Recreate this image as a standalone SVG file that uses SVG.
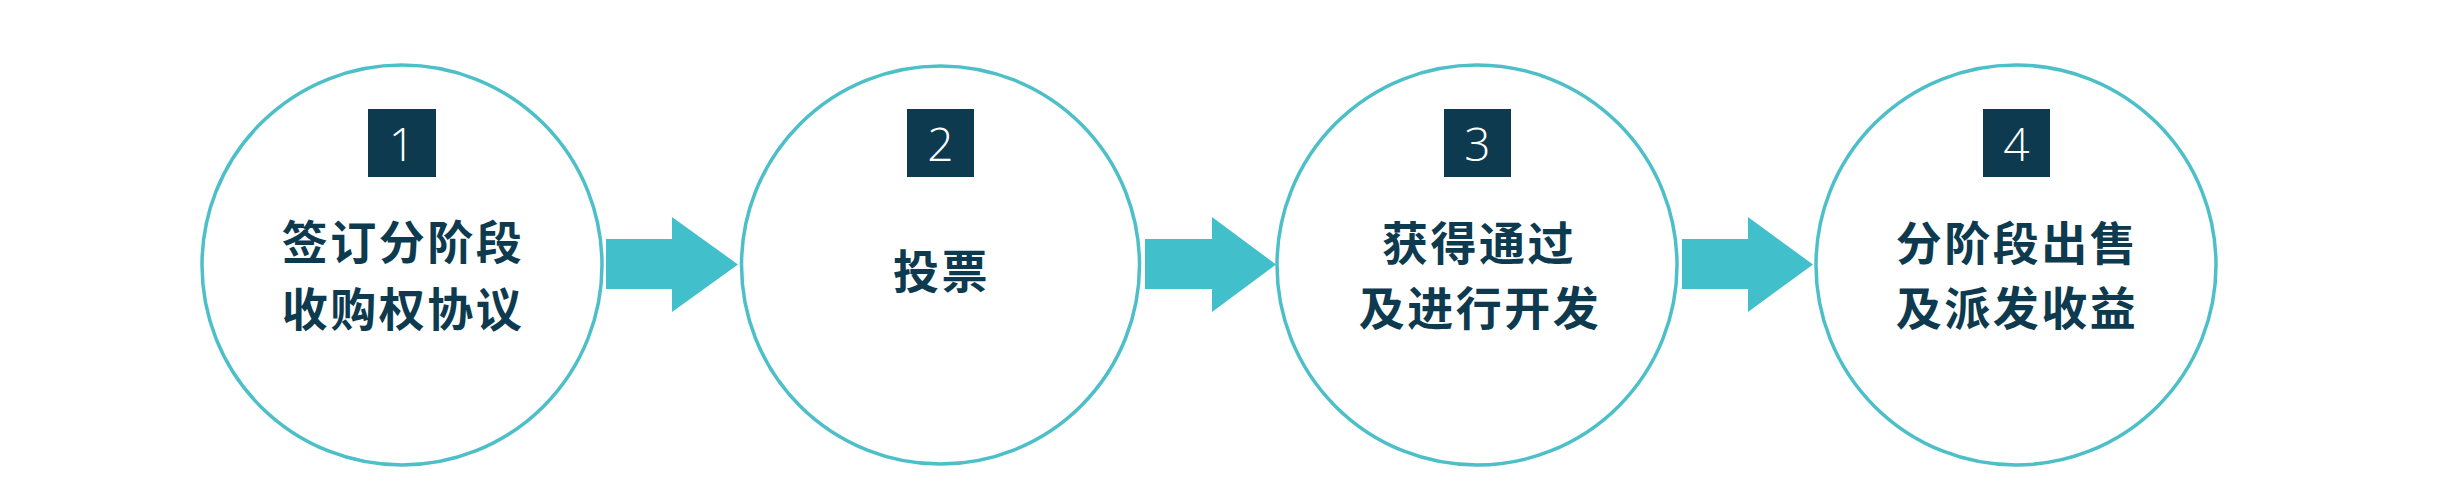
<svg xmlns="http://www.w3.org/2000/svg" width="2443" height="502" viewBox="0 0 2443 502">
<style>
.ring{fill:#ffffff;stroke:#4cbfc8;stroke-width:3.5}
.badge{fill:#0d3a4f}
.num{fill:#ffffff;font-family:"Open Sans","Lato","Liberation Sans",sans-serif;font-weight:300;font-size:46px;text-anchor:middle}
.lbl{fill:#0d3a4f;font-family:"Noto Sans CJK SC","Noto Sans CJK TC",sans-serif;font-weight:700;font-size:46px;letter-spacing:2.5px;text-anchor:middle}
.arrow{fill:#41c0cb}
</style>
<rect width="2443" height="502" fill="#ffffff"/>
<g id="connectors">
<polygon class="arrow" points="606,239 672,239 672,217 738,264.5 672,312 672,289 606,289"/>
<polygon class="arrow" points="1145,239 1212,239 1212,217 1276,264.5 1212,312 1212,289 1145,289"/>
<polygon class="arrow" points="1682,239 1748,239 1748,217 1813,264.5 1748,312 1748,289 1682,289"/>
</g>
<g id="node1">
<circle class="ring" cx="402" cy="265" r="200"/>
<rect class="badge" x="368" y="109" width="68" height="68"/>
<text class="num" x="402" y="161">1</text>
<text class="lbl" x="403" y="259">签订分阶段</text>
<text class="lbl" x="403" y="326">收购权协议</text>
</g>
<g id="node2">
<circle class="ring" cx="940.5" cy="265" r="199"/>
<rect class="badge" x="907" y="109" width="67" height="68"/>
<text class="num" x="940.5" y="161">2</text>
<text class="lbl" x="941.5" y="288">投票</text>
</g>
<g id="node3">
<circle class="ring" cx="1477" cy="265" r="200"/>
<rect class="badge" x="1444" y="109" width="67" height="68"/>
<text class="num" x="1477.5" y="161">3</text>
<text class="lbl" x="1479" y="260">获得通过</text>
<text class="lbl" x="1480" y="325">及进行开发</text>
</g>
<g id="node4">
<circle class="ring" cx="2016" cy="265" r="200"/>
<rect class="badge" x="1983" y="109" width="67" height="68"/>
<text class="num" x="2016.5" y="161">4</text>
<text class="lbl" x="2017" y="260">分阶段出售</text>
<text class="lbl" x="2017" y="325">及派发收益</text>
</g>
</svg>
